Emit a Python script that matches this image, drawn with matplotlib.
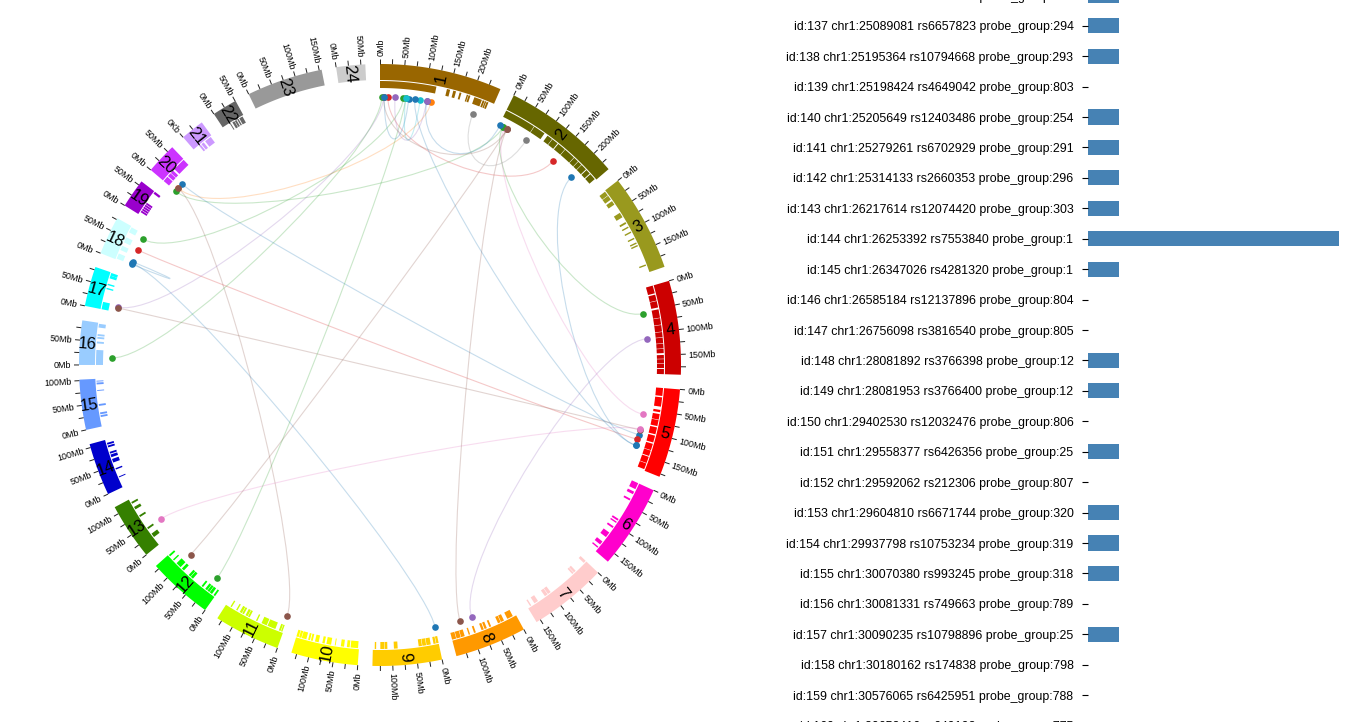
import numpy as np
import matplotlib
matplotlib.use("Agg")
import matplotlib.pyplot as plt
from matplotlib.path import Path
from matplotlib.patches import PathPatch

plt.rcParams["font.family"] = ["Liberation Sans", "DejaVu Sans"]

# chromosomes: length in Mb and colour
chrom_len = [249, 243, 198, 191, 181, 171, 159, 146, 141, 136, 135, 133,
             115, 107, 102, 90, 81, 78, 59, 63, 48, 51, 155, 59]
chrom_col = ["#996600", "#666600", "#99991E", "#CC0000", "#FF0000", "#FF00CC",
             "#FFCCCC", "#FF9900", "#FFCC00", "#FFFF00", "#CCFF00", "#00FF00",
             "#358000", "#0000CC", "#6699FF", "#99CCFF", "#00FFFF", "#CCFFFF",
             "#9900CC", "#CC33FF", "#CC99FF", "#666666", "#999999", "#CCCCCC"]

# second track, (start, end) in Mb for each chromosome
blocks = [
    [(0, 121), (144, 151), (158, 164), (172, 176), (188, 191), (192, 196), (205, 222), (224, 228), (229, 232), (233, 237)],
    [(0, 68), (69, 95), (103, 115), (116, 130), (132, 150), (151, 176), (177, 188), (189, 198), (199, 212), (214, 224), (226, 240)],
    [(2, 12), (13, 23), (27, 36), (57, 68), (80, 84), (91, 94), (103, 106), (118, 121), (129, 132), (135, 138), (180, 183)],
    [(0, 17), (20, 33), (34, 48), (52, 70), (71, 85), (86, 100), (101, 112), (113, 125), (126, 136), (137, 146), (150, 158), (159, 168), (169, 178), (180, 191)],
    [(0, 17), (20, 40), (47, 52), (56, 68), (69, 82), (85, 100), (103, 118), (121, 135), (136, 148), (150, 164), (165, 178)],
    [(0, 14), (20, 26), (37, 41), (87, 91), (94, 97), (106, 110), (122, 134), (146, 154), (160, 163)],
    [(0, 6), (30, 35), (36, 40), (100, 107), (108, 115), (133, 142), (150, 153)],
    [(7, 20), (28, 35), (36, 42), (58, 62), (68, 73), (75, 80), (93, 97), (106, 109), (118, 126), (127, 136), (137, 146)],
    [(0, 5), (6, 11), (17, 26), (27, 35), (36, 43), (88, 96), (110, 116), (117, 125), (134, 137)],
    [(2, 18), (20, 26), (32, 39), (50, 52), (60, 70), (74, 79), (87, 95), (100, 104), (106, 110), (114, 124), (125, 130), (131, 136)],
    [(2, 5), (6, 10), (18, 36), (38, 50), (60, 63), (78, 82), (83, 88), (92, 96), (97, 102), (108, 111), (122, 125)],
    [(0, 4), (8, 14), (15, 20), (21, 26), (32, 36), (60, 66), (67, 72), (86, 92), (96, 108), (116, 119), (128, 132)],
    [(19, 28), (40, 44), (71, 75), (90, 96), (104, 108)],
    [(22, 24), (40, 43), (56, 64), (68, 74), (76, 80), (90, 94), (96, 100)],
    [(20, 24), (26, 30), (44, 48), (76, 78), (90, 94), (96, 98)],
    [(0, 32), (46, 50), (56, 60), (62, 66), (80, 88)],
    [(0, 16), (44, 47), (53, 56), (68, 74), (74, 80)],
    [(2, 14), (22, 32), (40, 52), (64, 76)],
    [(6, 10), (11, 15), (16, 20), (21, 25), (26, 30), (54, 59)],
    [(0, 12), (14, 22), (23, 30), (34, 62)],
    [(14, 18), (20, 26), (30, 45)],
    [(17, 19), (23, 28), (29, 33), (35, 38), (40, 48)],
    [],
    [],
]

# links: chromosome and Mb at both ends, and colour
link_chr_a = [20, 20, 20, 20, 18, 18, 18, 18, 17, 17, 16, 13, 12, 12, 8, 8, 2, 2, 2, 1, 1, 1, 1, 1, 1, 1, 1]
link_mb_a = [9, 0, 22, 9, 65, 38, 6, 3, 12, 10, 16, 42, 100, 20, 118, 90, 14, 10, 202, 18, 214, 106, 8, 10, 34, 91, 79]
link_chr_b = [1, 2, 5, 11, 1, 5, 9, 18, 1, 5, 1, 5, 2, 1, 2, 4, 5, 4, 5, 2, 2, 2, 2, 1, 1, 1, 5]
link_mb_b = [116, 10, 110, 4, 53, 121, 0.5, 9, 8, 99, 4, 97, 20, 58, 20, 112, 63, 55, 135, 147, 70, 2, 20, 65, 106, 58, 135]
link_col = ["#ff7f0e", "#2ca02c", "#1f77b4", "#8c564b", "#2ca02c", "#d62728", "#1f77b4", "#1f77b4", "#9467bd",
            "#8c564b", "#2ca02c", "#e377c2", "#8c564b", "#2ca02c", "#8c564b", "#9467bd", "#e377c2", "#2ca02c",
            "#1f77b4", "#d62728", "#7f7f7f", "#1f77b4", "#8c564b", "#1f77b4", "#9467bd", "#17becf", "#1f77b4"]

# bar chart on the right
row_labels = [
    "id:136 chr1:25088214 rs6701234 probe_group:294",
    "id:137 chr1:25089081 rs6657823 probe_group:294",
    "id:138 chr1:25195364 rs10794668 probe_group:293",
    "id:139 chr1:25198424 rs4649042 probe_group:803",
    "id:140 chr1:25205649 rs12403486 probe_group:254",
    "id:141 chr1:25279261 rs6702929 probe_group:291",
    "id:142 chr1:25314133 rs2660353 probe_group:296",
    "id:143 chr1:26217614 rs12074420 probe_group:303",
    "id:144 chr1:26253392 rs7553840 probe_group:1",
    "id:145 chr1:26347026 rs4281320 probe_group:1",
    "id:146 chr1:26585184 rs12137896 probe_group:804",
    "id:147 chr1:26756098 rs3816540 probe_group:805",
    "id:148 chr1:28081892 rs3766398 probe_group:12",
    "id:149 chr1:28081953 rs3766400 probe_group:12",
    "id:150 chr1:29402530 rs12032476 probe_group:806",
    "id:151 chr1:29558377 rs6426356 probe_group:25",
    "id:152 chr1:29592062 rs212306 probe_group:807",
    "id:153 chr1:29604810 rs6671744 probe_group:320",
    "id:154 chr1:29937798 rs10753234 probe_group:319",
    "id:155 chr1:30070380 rs993245 probe_group:318",
    "id:156 chr1:30081331 rs749663 probe_group:789",
    "id:157 chr1:30090235 rs10798896 probe_group:25",
    "id:158 chr1:30180162 rs174838 probe_group:798",
    "id:159 chr1:30576065 rs6425951 probe_group:788",
    "id:160 chr1:30652416 rs649193 probe_group:775",
]
row_values = [1, 1, 1, 0, 1, 1, 1, 1, 8, 1, 0, 0, 1, 1, 0, 1, 0, 1, 1, 1, 0, 1, 0, 0, 0]

W, H = 1348, 722
CX, CY = 380, 365
GAP = 2.8
DEG_PER_MB = (360 - GAP * len(chrom_len)) / sum(chrom_len)
starts = [sum(chrom_len[:i]) * DEG_PER_MB + i * GAP for i in range(len(chrom_len))]


def polar(theta, r):
    t = np.radians(theta)
    return CX + r * np.sin(t), CY - r * np.cos(t)


def band(ax, t0, t1, r0, r1, color):
    ts = np.linspace(t0, t1, max(int((t1 - t0) * 4), 2))
    xo, yo = polar(ts, r1)
    xi, yi = polar(ts[::-1], r0)
    ax.fill(np.r_[xo, xi], np.r_[yo, yi], color=color, lw=0)


def angle(chrom, mb):
    return starts[chrom - 1] + mb * DEG_PER_MB


fig = plt.figure(figsize=(W / 100, H / 100), dpi=100, facecolor="white")
ax = fig.add_axes([0, 0, 1, 1])
ax.set_xlim(0, W)
ax.set_ylim(H, 0)
ax.axis("off")

for i, length in enumerate(chrom_len):
    t0 = starts[i]
    band(ax, t0, t0 + length * DEG_PER_MB, 285, 301, chrom_col[i])
    for a, b in blocks[i]:
        band(ax, t0 + a * DEG_PER_MB, t0 + b * DEG_PER_MB, 277, 284, chrom_col[i])

    # ticks every 25Mb, labels every 50Mb
    for mb in range(0, length, 25):
        th = t0 + mb * DEG_PER_MB
        x0, y0 = polar(th, 301)
        x1, y1 = polar(th, 306)
        ax.plot([x0, x1], [y0, y1], color="#222222", lw=0.7, solid_capstyle="butt")
        if mb % 50 == 0:
            tx, ty = polar(th, 308.5)
            if i == 20:
                txt = "0Kb"
            else:
                txt = "%dMb" % mb
            if th < 180:
                ax.text(tx, ty, txt, fontsize=6.4, rotation=90 - th, rotation_mode="anchor", ha="left", va="center_baseline")
            else:
                ax.text(tx, ty, txt, fontsize=6.4, rotation=270 - th, rotation_mode="anchor", ha="right", va="center_baseline")

    mid = t0 + length * DEG_PER_MB / 2
    lx, ly = polar(mid, 293)
    rot = 90 - mid if mid < 180 else 270 - mid
    ax.text(lx, ly, str(i + 1), fontsize=12, rotation=rot, rotation_mode="anchor", ha="center", va="center_baseline")

# links: cubic curves with control points on a smaller circle
for ca, ma, cb, mb, col in zip(link_chr_a, link_mb_a, link_chr_b, link_mb_b, link_col):
    ta, tb = angle(ca, ma), angle(cb, mb)
    verts = [polar(ta, 268), polar(ta, 213), polar(tb, 213), polar(tb, 268)]
    codes = [Path.MOVETO, Path.CURVE4, Path.CURVE4, Path.CURVE4]
    ax.add_patch(PathPatch(Path(verts, codes), fc="none", ec=col, lw=0.8, alpha=0.25))

for ca, ma, cb, mb, col in zip(link_chr_a, link_mb_a, link_chr_b, link_mb_b, link_col):
    for c, m in ((ca, ma), (cb, mb)):
        x, y = polar(angle(c, m), 268)
        ax.scatter([x], [y], s=23, color=col, linewidths=0, zorder=3)

# bar chart axes, row 0 sits at y=-4.7 and the rows are 30.43px apart
top_px, bot_px = -30, 760
first_row = -4.7
row_h = 30.43
bx0, bx1 = 1088, 1339.4
ax2 = fig.add_axes([bx0 / W, 1 - bot_px / H, (bx1 - bx0) / W, (bot_px - top_px) / H])
ypos = np.arange(len(row_labels))
ax2.barh(ypos, row_values, height=0.5, color="#4682B4")
ax2.set_xlim(0, max(row_values))
ax2.set_ylim((bot_px - first_row) / row_h, (top_px - first_row) / row_h)
ax2.set_yticks(ypos)
ax2.set_yticklabels(row_labels, fontsize=8.95)
ax2.tick_params(axis="y", length=4.3, width=0.8, pad=6.2)
ax2.set_xticks([])
for s in ax2.spines.values():
    s.set_visible(False)
ax2.patch.set_alpha(0)

fig.savefig("out.png", dpi=100)
